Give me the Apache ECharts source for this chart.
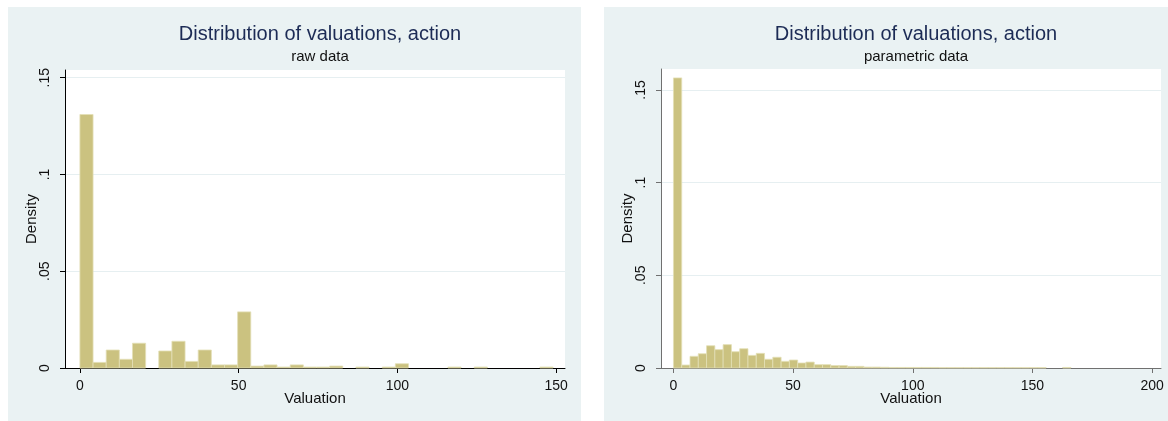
<!DOCTYPE html>
<html>
<head>
<meta charset="utf-8">
<script src="https://cdn.jsdelivr.net/npm/echarts@6/dist/echarts.min.js"></script>
<style>
  html, body { margin: 0; padding: 0; background: #fff; }
  body { width: 1168px; height: 421px; position: relative; overflow: hidden; }
  .panel { position: absolute; top: 7px; height: 414px; background: #eaf2f3; }
  #left { left: 8px; width: 573px; }
  #right { left: 604px; width: 564px; }
</style>
</head>
<body>
<div id="left" class="panel"></div>
<div id="right" class="panel"></div>
<script>
// histogram heights (density), bins start at 0
var rawBinWidth = 4.14;
var rawDensity = [
  0.131, 0.0029, 0.0093, 0.0045, 0.0128, 0, 0.0088, 0.0138, 0.0034, 0.0093,
  0.0016, 0.0016, 0.029, 0.0010, 0.0016, 0.0005, 0.0016, 0.0005, 0.0005, 0.0010,
  0, 0.0005, 0, 0.0005, 0.0022, 0, 0, 0, 0.0005, 0,
  0.0005, 0, 0, 0, 0, 0.0005
];

var paramBinWidth = 3.46;
var paramDensity = [
  0.1565, 0.0016, 0.0063, 0.0077, 0.0120, 0.0099, 0.0126, 0.0088, 0.0104, 0.0068,
  0.0079, 0.0047, 0.0058, 0.0036, 0.0043, 0.0027, 0.0032, 0.0018, 0.0018, 0.0013,
  0.0013, 0.0009, 0.0009, 0.0005, 0.0005, 0.0004, 0.0003, 0.0003, 0.0003, 0.0003,
  0.0003, 0.0003, 0.0002, 0.0002, 0.0002, 0.0002, 0.0002, 0.0002, 0.0002, 0.0002,
  0.0002, 0.0002, 0.0002, 0.0002, 0.0002, 0, 0, 0.0003
];

var yTicks = [0, 0.05, 0.1, 0.15];
var yTickLabels = {'0': '0', '0.05': '.05', '0.1': '.1', '0.15': '.15'};
var rawXTicks = [0, 50, 100, 150];
var paramXTicks = [0, 50, 100, 150, 200];

var titleText = 'Distribution of valuations, action';
var fontFamily = '"Liberation Sans", Arial, sans-serif';

function toBins(heights, w) {
  var out = [];
  for (var i = 0; i < heights.length; i++) {
    out.push([i * w, (i + 1) * w, heights[i]]);
  }
  return out;
}

function renderBar(params, api) {
  var h = api.value(2);
  if (!h) return null;
  var p0 = api.coord([api.value(0), h]);
  var p1 = api.coord([api.value(1), 0]);
  return {
    type: 'rect',
    shape: {x: p0[0], y: p0[1], width: p1[0] - p0[0], height: p1[1] - p0[1]},
    style: {fill: '#cbc280', stroke: '#e3dfb6', lineWidth: 0.8}
  };
}

function makeOption(sub, bins, xMin, xMax, yMax, xTicks, axisColor) {
  return {
    animation: false,
    title: {
      text: titleText,
      subtext: sub,
      left: 307,
      top: 10,
      textAlign: 'center',
      itemGap: 2,
      textStyle: {color: '#1c2b55', fontSize: 20, fontWeight: 'normal', fontFamily: fontFamily, lineHeight: 24},
      subtextStyle: {color: '#111', fontSize: 15, fontFamily: fontFamily, lineHeight: 18}
    },
    grid: {
      left: 57, top: 63, width: 500, height: 298,
      show: true, backgroundColor: '#fff', borderWidth: 0
    },
    xAxis: {
      type: 'value',
      min: xMin,
      max: xMax,
      name: 'Valuation',
      nameLocation: 'middle',
      nameGap: 23,
      nameMoveOverlap: false,
      nameTextStyle: {color: '#111', fontSize: 15, fontFamily: fontFamily},
      axisLine: {show: true, onZero: false, lineStyle: {color: axisColor, width: 1}},
      axisTick: {show: true, length: 5, customValues: xTicks, lineStyle: {color: axisColor}},
      axisLabel: {customValues: xTicks, margin: 11, color: '#111', fontSize: 14, fontFamily: fontFamily},
      splitLine: {show: false}
    },
    yAxis: {
      type: 'value',
      min: 0,
      max: yMax,
      name: 'Density',
      nameLocation: 'middle',
      nameGap: 26,
      nameRotate: 90,
      nameMoveOverlap: false,
      nameTextStyle: {color: '#111', fontSize: 15, fontFamily: fontFamily},
      axisLine: {show: true, onZero: false, lineStyle: {color: axisColor, width: 1}},
      axisTick: {show: true, length: 5, customValues: yTicks, lineStyle: {color: axisColor}},
      axisLabel: {
        customValues: yTicks,
        rotate: 90,
        margin: 13,
        color: '#111',
        fontSize: 14,
        fontFamily: fontFamily,
        formatter: function (v) { return yTickLabels[String(+v.toFixed(2))]; }
      },
      splitLine: {show: true, lineStyle: {color: '#e6eff1', width: 1}}
    },
    series: [{
      type: 'custom',
      renderItem: renderBar,
      encode: {x: [0, 1], y: 2},
      data: bins
    }]
  };
}

var leftChart = echarts.init(document.getElementById('left'));
leftChart.setOption(makeOption('raw data', toBins(rawDensity, rawBinWidth), -4.7, 152.8, 0.154, rawXTicks, '#000'));

var rightChart = echarts.init(document.getElementById('right'));
var rightOpt = makeOption('parametric data', toBins(paramDensity, paramBinWidth), -5.2, 203.7, 0.1613, paramXTicks, '#707070');
rightOpt.grid.top = 62;
rightOpt.grid.height = 299;
rightChart.setOption(rightOpt);
</script>
</body>
</html>
